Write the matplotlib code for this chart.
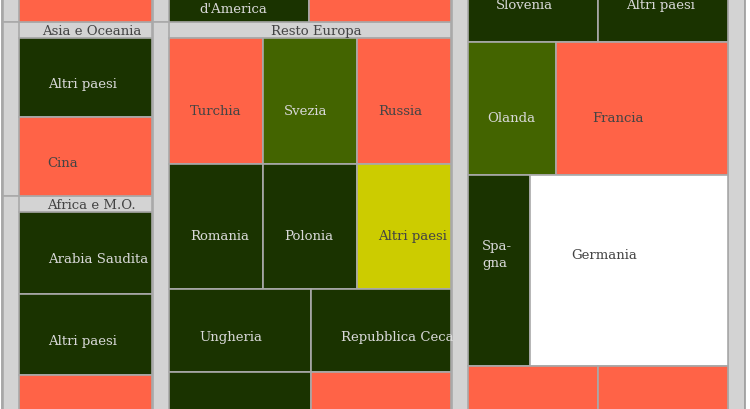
import matplotlib
matplotlib.use("Agg")
import matplotlib.pyplot as plt
from matplotlib.patches import Rectangle

# classi colore: 0 verde scuro, 1 verde oliva, 2 giallo, 3 rosso, 4 bianco

# colonna sinistra
sx_gruppi = ["", "Asia e Oceania", "Africa e M.O."]
sx_paesi = [None, "Altri paesi", "Cina", "Arabia Saudita", "Altri paesi", None]
sx_valori = [70, 106, 104, 109, 108, 112]
sx_classe = [3, 0, 3, 0, 0, 3]
sx_gruppo = [0, 1, 1, 2, 2, 2]
sx_riga = [0, 1, 2, 3, 4, 5]

# colonna centrale
cx_gruppi = ["", "Resto Europa"]
cx_paesi = ["Stati Uniti\nd'America", None, "Turchia", "Svezia", "Russia",
            "Romania", "Polonia", "Altri paesi", "Ungheria", "Repubblica Ceca",
            None, None]
cx_valori = [74, 75, 118, 118, 118, 117, 117, 117, 117, 116, 123, 122]
cx_classe = [0, 3, 3, 1, 3, 0, 0, 2, 0, 0, 0, 3]
cx_gruppo = [0, 0, 1, 1, 1, 1, 1, 1, 1, 1, 1, 1]
cx_riga = [0, 0, 1, 1, 1, 2, 2, 2, 3, 3, 4, 4]

# colonna destra
dx_gruppi = [None]
dx_paesi = ["Slovenia", "Altri paesi", "Olanda", "Francia", "Spa-\ngna",
            "Germania", None, None]
dx_valori = [116, 116, 116, 227, 118, 378, 121, 121]
dx_classe = [0, 0, 1, 3, 0, 4, 3, 3]
dx_gruppo = [0, 0, 0, 0, 0, 0, 0, 0]
dx_riga = [0, 0, 1, 1, 2, 2, 3, 3]

PAL = ['#1a3300', '#436400', '#cccc00', '#ff6347', '#ffffff']
TXT = ['#d8d8d8', '#d8d8d8', '#444444', '#444444', '#444444']
GRIGIO = '#d3d3d3'
BORDO = '#a9a9a9'

W, H = 750, 410
TOP, BOTTOM = -46, 460      # la vista e' un ritaglio della mappa
HEAD = 16
pad_l, gap, pad_r = 19, 17, 22

colonne = [
    (sx_gruppi, sx_paesi, sx_valori, sx_classe, sx_gruppo, sx_riga),
    (cx_gruppi, cx_paesi, cx_valori, cx_classe, cx_gruppo, cx_riga),
    (dx_gruppi, dx_paesi, dx_valori, dx_classe, dx_gruppo, dx_riga),
]

def disponibile(gruppi):
    return (BOTTOM - TOP) - HEAD * sum(g is not None for g in gruppi)

rapporti = [sum(c[2]) / disponibile(c[0]) for c in colonne]
k = (W - pad_l - pad_r - gap * (len(colonne) - 1)) / sum(rapporti)

fig = plt.figure(figsize=(7.5, 4.1), dpi=100)
ax = fig.add_axes([0, 0, 1, 1])
ax.set_xlim(0, W)
ax.set_ylim(H, 0)
ax.axis('off')

ax.add_patch(Rectangle((2, -100), 743, 700, facecolor=GRIGIO,
                       edgecolor='#999999', lw=1.2, zorder=0))

font = dict(family='DejaVu Serif', fontsize=9.5)

x0 = pad_l
for (gruppi, paesi, valori, classe, gruppo, riga), r in zip(colonne, rapporti):
    w = r * k
    y = TOP
    for gi, nome in enumerate(gruppi):
        idx = [i for i in range(len(valori)) if gruppo[i] == gi]
        gy0 = y
        if nome is not None:
            y += HEAD
        celle = []
        for rr in sorted(set(riga[i] for i in idx)):
            fila = [i for i in idx if riga[i] == rr]
            h = sum(valori[i] for i in fila) * k / w
            xx = x0
            for i in fila:
                cw = valori[i] * k / h
                celle.append((i, xx, y, cw, h))
                xx += cw
            y += h
        # riquadro del gruppo
        ax.add_patch(Rectangle((x0 - 16, gy0), w + 16, y - gy0, facecolor=GRIGIO,
                               edgecolor=BORDO, lw=1.2, zorder=1))
        if nome is not None:
            ax.add_patch(Rectangle((x0, gy0), w, HEAD, facecolor=GRIGIO,
                                   edgecolor=BORDO, lw=1.2, zorder=2))
            ax.text(x0 + w / 2 + 6, gy0 + HEAD / 2 + 0.5, nome, ha='center',
                    va='center', color='#444444', zorder=5, **font)
        for i, cx, cy, cw, ch in celle:
            ax.add_patch(Rectangle((cx, cy), cw, ch, facecolor=PAL[classe[i]],
                                   edgecolor=BORDO, lw=1.2, zorder=3))
            if paesi[i]:
                ax.text(cx + 0.2 * cw + 2, cy + min(0.56 * ch, 78) + 1.5, paesi[i],
                        ha='left', va='center', color=TXT[classe[i]],
                        linespacing=1.4, zorder=5, **font)
    x0 += w + gap

fig.savefig("out.png", dpi=100)
